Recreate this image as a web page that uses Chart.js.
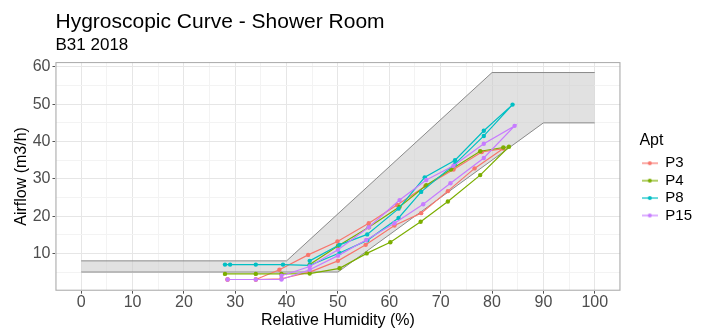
<!DOCTYPE html>
<html>
<head>
<meta charset="utf-8">
<script src="https://cdn.jsdelivr.net/npm/chart.js@4"></script>
<style>
  html, body { margin: 0; padding: 0; background: #fff; }
  #wrap { width: 706px; height: 331px; }
</style>
</head>
<body>
<div id="wrap"><canvas id="hygroChart" width="706" height="331"></canvas></div>
<script>
// reference ribbon (allowed airflow band)
const upperRh = [0, 40, 80, 100]
const upperFlow = [8, 8, 58.5, 58.5]
const lowerRh = [0, 50, 90, 100]
const lowerFlow = [5, 5, 45, 45]

// measured curves, in path order (rising then falling back)
const p3Rh = [28.5, 34, 38.6, 44.2, 49.9, 56, 61.5, 67, 72.5, 78, 82.2, 76.6, 71.4, 66.2, 61, 55.4, 50, 44.5, 39, 34, 28.5]
const p3Flow = [3, 3, 5.6, 9.6, 13.2, 18.1, 23, 28, 32.5, 37.2, 38.1, 32.8, 26.7, 20.8, 17.5, 12.3, 8, 5, 3.2, 3, 3]

const p4Rh = [28, 34, 39, 44.5, 50.3, 55.6, 60.2, 66.1, 71.4, 77.7, 83.3, 82.2, 77.7, 72, 67.2, 62, 56, 50, 44.5]
const p4Flow = [4.5, 4.5, 4.5, 4.6, 6, 10, 13, 18.5, 23.9, 31, 38.6, 38.4, 37.4, 32.5, 28.3, 22.5, 17, 12, 7]

const p8Rh = [28, 29, 34, 39.3, 44.5, 50.3, 55.7, 61.8, 66.2, 72.8, 78.4, 84, 78.4, 72.8, 66.9, 61.8, 55.7, 50.3, 44.5]
const p8Flow = [7, 7, 7, 7, 6.8, 10.1, 13.5, 19.5, 26.5, 34, 41.5, 49.9, 42.9, 35, 30.4, 22, 15.1, 12.3, 8]

const p15Rh = [28.5, 34, 39, 44.5, 50, 55.5, 61, 66.6, 71.9, 78.4, 84.4, 78.4, 72.5, 67.2, 62, 56, 50, 44.5, 39]
const p15Flow = [3, 3, 3, 5.6, 9.4, 13.6, 18.1, 23.2, 28.8, 35.6, 44.2, 39.4, 33.5, 29.7, 24.3, 17, 11, 6.5, 4]

const aptNames = ['P3', 'P4', 'P8', 'P15']
const aptColors = ['#F8766D', '#7CAE00', '#00BFC4', '#C77CFF']

const xTicks = [0, 10, 20, 30, 40, 50, 60, 70, 80, 90, 100]
const yTicks = [10, 20, 30, 40, 50, 60]

const toPoints = (xs, ys) => xs.map((x, i) => ({ x: x, y: ys[i] }))

// legend key: short line with a dot in the middle
const legendKey = (color) => {
    const c = document.createElement('canvas')
    c.width = 16
    c.height = 8
    const g = c.getContext('2d')
    g.strokeStyle = color
    g.lineWidth = 1.2
    g.beginPath()
    g.moveTo(0, 4)
    g.lineTo(16, 4)
    g.stroke()
    g.fillStyle = color
    g.beginPath()
    g.arc(8, 4, 2, 0, Math.PI * 2)
    g.fill()
    return c
}

const series = [[p3Rh, p3Flow], [p4Rh, p4Flow], [p8Rh, p8Flow], [p15Rh, p15Flow]]

const aptDatasets = series.map((s, i) => ({
    label: aptNames[i],
    data: toPoints(s[0], s[1]),
    showLine: true,
    borderColor: aptColors[i],
    backgroundColor: aptColors[i],
    borderWidth: 1.2,
    pointRadius: 2.2,
    pointBorderWidth: 0,
    pointStyle: 'circle',
    fill: false,
    order: 4 - i,
    legendKey: legendKey(aptColors[i])
}))

const font = "'Liberation Sans', Arial, sans-serif"
const isMajor = (v, list) => list.includes(Math.round(v * 100) / 100)

// full grey panel border like the ggplot panel, legend nudged away from panel
const panelPlugin = {
    id: 'panelBorder',
    afterLayout(chart) {
        const lg = chart.legend
        if (!lg) return
        const dx = chart.chartArea.right + 19 - lg.left
        lg.left += dx
        lg.right += dx
    },
    afterDatasetsDraw(chart) {
        const { left, top, right, bottom } = chart.chartArea
        const c = chart.ctx
        c.save()
        c.strokeStyle = '#a8a8a8'
        c.lineWidth = 1
        c.strokeRect(left + 0.5, top + 0.5, right - left - 1, bottom - top - 1)
        c.restore()
    }
}

const ctx = document.getElementById('hygroChart').getContext('2d')

new Chart(ctx, {
    type: 'scatter',
    plugins: [panelPlugin],
    data: {
        datasets: [
            {
                label: 'upper',
                data: toPoints(upperRh, upperFlow),
                showLine: true,
                borderColor: '#8a8a8a',
                borderWidth: 1,
                pointRadius: 0,
                fill: false,
                order: 10
            },
            {
                label: 'lower',
                data: toPoints(lowerRh, lowerFlow),
                showLine: true,
                borderColor: '#8a8a8a',
                borderWidth: 1,
                pointRadius: 0,
                fill: '-1',
                backgroundColor: 'rgba(200,200,200,0.55)',
                order: 10
            },
            ...aptDatasets
        ]
    },
    options: {
        responsive: false,
        animation: false,
        layout: { padding: { left: 1.5, right: 23, top: 0, bottom: 0.5 } },
        scales: {
            x: {
                type: 'linear',
                min: -5,
                max: 105,
                border: { display: false },
                grid: {
                    color: (c) => isMajor(c.tick.value, xTicks) ? '#e6e6e6' : '#f3f3f3',
                    tickColor: (c) => isMajor(c.tick.value, xTicks) ? '#555' : 'rgba(0,0,0,0)',
                    tickLength: 3,
                    lineWidth: 1
                },
                ticks: {
                    stepSize: 5,
                    includeBounds: false,
                    autoSkip: false,
                    maxRotation: 0,
                    padding: 0,
                    color: '#4d4d4d',
                    font: { family: font, size: 16, lineHeight: 1.1 },
                    callback: (v) => isMajor(v, xTicks) ? v : ''
                },
                title: {
                    display: true,
                    text: 'Relative Humidity (%)',
                    color: '#000',
                    padding: { top: 0, bottom: 0 },
                    font: { family: font, size: 16 }
                }
            },
            y: {
                type: 'linear',
                min: 0,
                max: 61.3,
                border: { display: false },
                grid: {
                    color: (c) => isMajor(c.tick.value, yTicks) ? '#e6e6e6' : '#f3f3f3',
                    tickColor: (c) => isMajor(c.tick.value, yTicks) ? '#555' : 'rgba(0,0,0,0)',
                    tickLength: 3,
                    lineWidth: 1
                },
                ticks: {
                    stepSize: 5,
                    includeBounds: false,
                    autoSkip: false,
                    padding: 2,
                    color: '#4d4d4d',
                    font: { family: font, size: 16 },
                    callback: (v) => isMajor(v, yTicks) ? v : ''
                },
                title: {
                    display: true,
                    text: 'Airflow (m3/h)',
                    color: '#000',
                    padding: { top: 10, bottom: 0 },
                    font: { family: font, size: 16 }
                }
            }
        },
        plugins: {
            tooltip: { enabled: false },
            title: {
                display: true,
                text: 'Hygroscopic Curve - Shower Room',
                align: 'start',
                fullSize: false,
                color: '#000',
                padding: { top: 10, bottom: 0 },
                font: { family: font, size: 21, weight: 'normal' }
            },
            subtitle: {
                display: true,
                text: 'B31 2018',
                align: 'start',
                fullSize: false,
                color: '#000',
                padding: { top: 0, bottom: 6.5 },
                font: { family: font, size: 17, weight: 'normal' }
            },
            legend: {
                position: 'right',
                align: 'center',
                title: {
                    display: true,
                    text: 'Apt',
                    position: 'start',
                    color: '#000',
                    padding: { top: 27, bottom: 2 },
                    font: { family: font, size: 16 }
                },
                labels: {
                    color: '#000',
                    font: { family: font, size: 15 },
                    usePointStyle: true,
                    pointStyleWidth: 16,
                    padding: 2.4,
                    filter: (item) => aptNames.includes(item.text),
                    sort: (a, b) => a.datasetIndex - b.datasetIndex,
                    generateLabels: (chart) => {
                        const items = Chart.defaults.plugins.legend.labels.generateLabels(chart)
                        items.forEach(it => {
                            const ds = chart.data.datasets[it.datasetIndex]
                            if (ds.legendKey) it.pointStyle = ds.legendKey
                        })
                        return items
                    }
                }
            }
        }
    }
})
</script>
</body>
</html>
